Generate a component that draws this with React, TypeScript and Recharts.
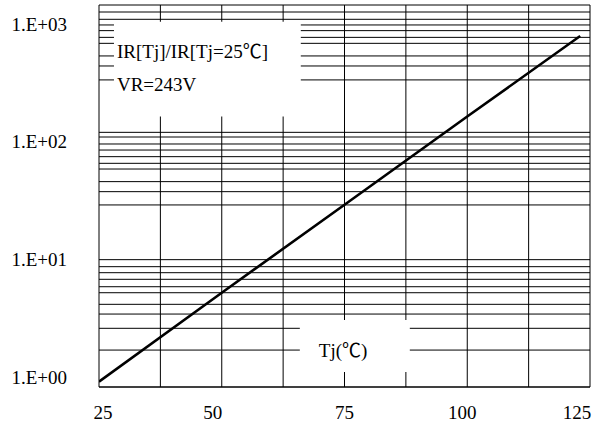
import React from "react";
import { LineChart, Line, XAxis, YAxis, CartesianGrid, ReferenceArea } from "recharts";

// Junction temperature (°C) and leakage-current ratio
const tempC = [25, 50, 75, 100, 123];
const irRatio = [1.1, 5.5, 27, 133, 571];

// Axis ticks / grid
const xGridTicks = [25, 37.5, 50, 62.5, 75, 87.5, 100, 112.5, 125];
const xLabelTicks = [25, 50, 75, 100, 125];
const yDecadeTicks = [1, 10, 100, 1000];
const yDecadeLabels = ["1.E+00", "1.E+01", "1.E+02", "1.E+03"];
const yGridTicks = [
  1, 1.95, 2.89, 3.74, 4.46, 5.5, 6.13, 7.01, 7.9, 8.81,
  10, 26.9, 34.2, 41, 51.5, 57.1, 64.4, 72.6, 81, 91.9,
  100, 258, 332, 398, 500, 557, 629, 697, 772, 881, 1000,
];

// Annotation texts
const noteLines = ["IR[Tj]/IR[Tj=25\u2103]", "VR=243V"];
const xTitle = "Tj(\u2103)";

const data = tempC.map((t, i) => ({ t, ir: irRatio[i] }));

const FONT = "'Liberation Serif', 'Times New Roman', 'Noto Sans CJK SC', serif";
const FS = 19;
const xLabelShift = [4, -9, 0, -5, -13];
const yLabelShift = [-10, 0, 9, 19];

function XTick(props: any) {
  const { x, y, payload } = props;
  const idx = xLabelTicks.indexOf(payload.value);
  if (idx < 0) return <g />;
  return (
    <text x={x + xLabelShift[idx]} y={y} dy="0.71em" textAnchor="middle" fontSize={FS} fontFamily={FONT} fill="#000">
      {String(payload.value)}
    </text>
  );
}

function YTick(props: any) {
  const { x, y, payload } = props;
  const idx = yDecadeTicks.indexOf(payload.value);
  if (idx < 0) return <g />;
  return (
    <text x={x} y={y + yLabelShift[idx]} dy="0.355em" textAnchor="end" fontSize={FS} fontFamily={FONT} fill="#000">
      {yDecadeLabels[idx]}
    </text>
  );
}

function NoteLabel(props: any) {
  const vb = props.viewBox || {};
  return (
    <g>
      <text x={vb.x + 3} y={vb.y + 36} fontSize={FS} fontFamily={FONT} fill="#000">{noteLines[0]}</text>
      <text x={vb.x + 3} y={vb.y + 69} fontSize={FS} fontFamily={FONT} fill="#000">{noteLines[1]}</text>
    </g>
  );
}

function TitleLabel(props: any) {
  const vb = props.viewBox || {};
  return (
    <text x={vb.x + 19} y={vb.y + 37} fontSize={FS} fontFamily={FONT} fill="#000">{xTitle}</text>
  );
}

export default function App() {
  return (
    <div style={{ position: "absolute", left: 0, top: 0, background: "#fff" }}>
      <LineChart width={593} height={428} data={data} margin={{ top: 5, right: 3, bottom: 0, left: 0 }}>
        <CartesianGrid stroke="#000" strokeWidth={1} />
        <XAxis
          dataKey="t"
          type="number"
          domain={[25, 125]}
          ticks={xGridTicks}
          interval={0}
          allowDataOverflow
          height={41}
          tickLine={false}
          tickSize={0}
          tickMargin={19}
          axisLine={{ stroke: "#000" }}
          tick={(p: any) => <XTick {...p} />}
        />
        <YAxis
          type="number"
          scale="log"
          domain={[1, 1000]}
          ticks={yGridTicks}
          interval={0}
          allowDataOverflow
          width={99}
          tickLine={false}
          tickSize={0}
          tickMargin={32}
          axisLine={false}
          tick={(p: any) => <YTick {...p} />}
        />
        <ReferenceArea
          x1={28.05}
          x2={66.1}
          y1={133}
          y2={740}
          fill="#fff"
          fillOpacity={1}
          stroke="none"
          label={(p: any) => <NoteLabel {...p} />}
        />
        <ReferenceArea
          x1={65.9}
          x2={88.3}
          y1={1.31}
          y2={3.36}
          fill="#fff"
          fillOpacity={1}
          stroke="none"
          label={(p: any) => <TitleLabel {...p} />}
        />
        <Line
          type="linear"
          dataKey="ir"
          stroke="#000"
          strokeWidth={2.6}
          dot={false}
          isAnimationActive={false}
        />
      </LineChart>
    </div>
  );
}
